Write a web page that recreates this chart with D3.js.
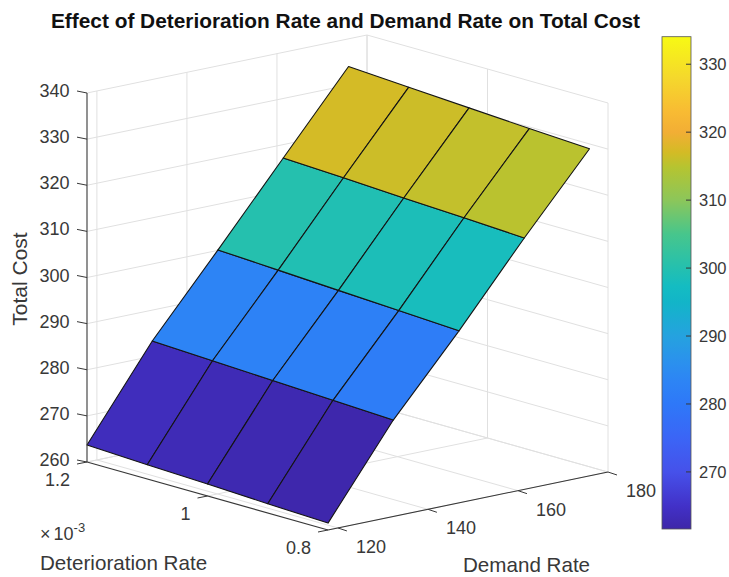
<!DOCTYPE html>
<html><head><meta charset="utf-8">
<script src="https://cdn.jsdelivr.net/npm/d3@7"></script>
<style>html,body{margin:0;padding:0;background:#fff}svg{display:block}text{font-family:"Liberation Sans",Arial,sans-serif}</style>
</head><body><svg id="c" width="729" height="577"></svg>
<script>
const demandValues = [117.8, 132.3, 146.9, 161.4, 175.9];
const deteriorationValues = [1.2, 1.1, 1.0, 0.9, 0.8];
const costRow1 = [263.7, 263.1, 262.6, 262.0, 261.5];
const costRow2 = [283.3, 282.7, 282.1, 281.5, 280.9];
const costRow3 = [300.1, 299.4, 298.7, 298.0, 297.3];
const costRow4 = [317.1, 316.5, 315.8, 315.2, 314.5];
const costRow5 = [334.0, 333.2, 332.4, 331.6, 330.9];
const demandTicks = [120, 140, 160, 180];
const deteriorationTicks = [1.2, 1.0, 0.8];
const deteriorationTickLabels = ["1.2", "1", "0.8"];
const costTicks = [260, 270, 280, 290, 300, 310, 320, 330, 340];
const colorbarTicks = [270, 280, 290, 300, 310, 320, 330];
const colorPositions = [261.6, 265, 270, 275, 280, 283.3, 286, 290, 295, 297.3, 300.1, 305, 310, 314.8, 317, 320, 323, 328, 334];
const colorValues = ["#3d26a8", "#4231c8", "#4651ea", "#3b65f6", "#2e78f8", "#2d84f5", "#2b90ee", "#25a2df", "#12b5c8", "#14bcc2", "#25c0ae", "#47c68c", "#8cc65a", "#b5c431", "#d3bb25", "#f2ae35", "#f8bb33", "#f5d82c", "#f7f914"];
const costGrid = [costRow1, costRow2, costRow3, costRow4, costRow5];

const svg = d3.select("#c");
const ink = "#383838", grid = "#e0e0e0";
const U = d3.scaleLinear().domain([117.8, 180]).range([0, 1]);
const V = d3.scaleLinear().domain([1.2, 0.8]).range([0, 1]);
const Z = d3.scaleLinear().domain([260, 340]).range([0, 369]);
const color = d3.scaleLinear().domain(colorPositions).range(colorValues).clamp(true);
const P = (d, t, c) => {
  const u = U(d), v = V(t);
  return [87 + 280 * u + 241 * v, 462 - 58 * u + 68 * v - Z(c)];
};
const seg = (a, b, stroke, w) => svg.append("line").attr("x1", a[0]).attr("y1", a[1]).attr("x2", b[0]).attr("y2", b[1]).attr("stroke", stroke).attr("stroke-width", w);
const [dMin, dMax] = U.domain(), [tBack, tFront] = V.domain(), [zMin, zMax] = Z.domain();

// grid
costTicks.forEach(c => { seg(P(dMin, tBack, c), P(dMax, tBack, c), grid, 1); seg(P(dMax, tBack, c), P(dMax, tFront, c), grid, 1); });
demandTicks.forEach(d => { seg(P(d, tBack, zMin), P(d, tBack, zMax), grid, 1); seg(P(d, tBack, zMin), P(d, tFront, zMin), grid, 1); });
deteriorationTicks.forEach(t => { seg(P(dMax, t, zMin), P(dMax, t, zMax), grid, 1); seg(P(dMin, t, zMin), P(dMax, t, zMin), grid, 1); });

// surface
for (let r = 0; r < demandValues.length - 1; r++) for (let k = 0; k < deteriorationValues.length - 1; k++) {
  const pts = [[r, k], [r + 1, k], [r + 1, k + 1], [r, k + 1]].map(([a, b]) => P(demandValues[a], deteriorationValues[b], costGrid[a][b]));
  svg.append("path").attr("d", d3.line()(pts) + "Z").attr("fill", color(costGrid[r][k])).attr("stroke", "#141414").attr("stroke-width", 1.1).attr("stroke-linejoin", "round");
}

// box axes
seg(P(dMin, tBack, zMin), P(dMin, tBack, zMax), ink, 1.1);
seg(P(dMin, tBack, zMin), P(dMin, tFront, zMin), ink, 1.1);
seg(P(dMin, tFront, zMin), P(dMax, tFront, zMin), ink, 1.1);

const label = (p, s, anchor, size) => svg.append("text").attr("x", p[0]).attr("y", p[1]).attr("text-anchor", anchor).attr("font-size", size || 18).attr("fill", ink).text(s);
costTicks.forEach(c => {
  const p = P(dMin, tBack, c);
  seg(p, [p[0] - 10, p[1] - 2], ink, 1);
  label([p[0] - 17.5, p[1] + 4], c, "end");
});
demandTicks.forEach(d => {
  const p = P(d, tFront, zMin);
  seg(p, [p[0] + 9, p[1] + 3], ink, 1);
  label([p[0] + 33, p[1] + 25], d, "middle");
});
deteriorationTicks.forEach((t, i) => {
  const p = P(dMin, t, zMin);
  seg(p, [p[0] - 10, p[1] + 2], ink, 1);
  label([p[0] - 17, p[1] + 24], deteriorationTickLabels[i], "end");
});
const ex = svg.append("text").attr("x", 40).attr("y", 540).attr("font-size", 18).attr("fill", ink);
ex.append("tspan").text("\u00d7");
ex.append("tspan").attr("dx", 3).text("10");
ex.append("tspan").attr("font-size", 13).attr("dy", -8).text("-3");

svg.append("text").attr("x", 345.5).attr("y", 28).attr("text-anchor", "middle").attr("font-size", 20.85).attr("font-weight", "bold").attr("fill", "#111").text("Effect of Deterioration Rate and Demand Rate on Total Cost");
label([40, 570], "Deterioration Rate", "start", 20.6);
label([463, 571.5], "Demand Rate", "start", 20.6);
svg.append("text").attr("transform", "translate(27,279) rotate(-90)").attr("text-anchor", "middle").attr("font-size", 21).attr("fill", ink).text("Total Cost");

// colorbar
const cb = d3.scaleLinear().domain([261.6, 334.05]).range([529, 36.7]);
const defs = svg.append("defs").append("linearGradient").attr("id", "cbg").attr("x1", 0).attr("y1", 1).attr("x2", 0).attr("y2", 0);
colorPositions.forEach((c, i) => defs.append("stop").attr("offset", (c - 261.6) / (334.05 - 261.6)).attr("stop-color", colorValues[i]));
svg.append("rect").attr("x", 662).attr("y", 36.7).attr("width", 29).attr("height", 492.3).attr("fill", "url(#cbg)").attr("stroke", "#555").attr("stroke-width", 0.8);
const ax = svg.append("g").attr("transform", "translate(691,0)").call(d3.axisRight(cb).tickValues(colorbarTicks).tickSize(0).tickPadding(8));
ax.select(".domain").remove();
ax.selectAll("text").attr("font-size", 16.5).attr("font-family", '"Liberation Sans",Arial,sans-serif').attr("fill", ink);
colorbarTicks.forEach(c => seg([686, cb(c)], [691, cb(c)], ink, 1));
</script></body></html>
